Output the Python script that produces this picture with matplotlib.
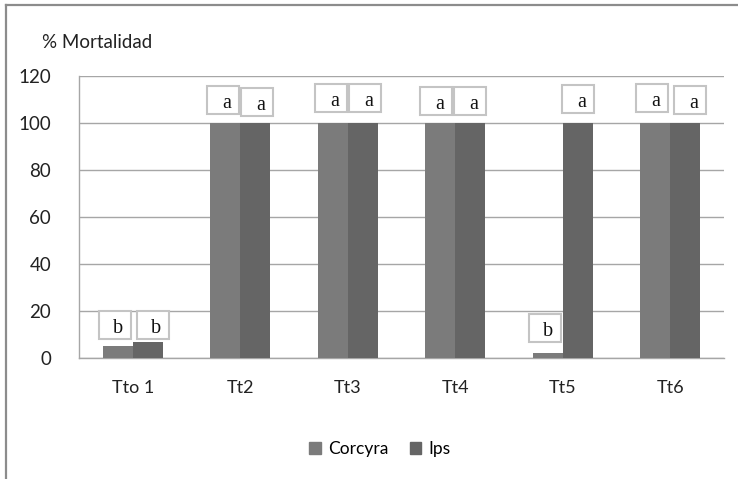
import matplotlib
matplotlib.use("Agg")
import matplotlib.pyplot as plt
from matplotlib.patches import Rectangle
from matplotlib.lines import Line2D
import numpy as np

categories = ["Tto 1", "Tt2", "Tt3", "Tt4", "Tt5", "Tt6"]
corcyra = [5, 100, 100, 100, 2, 100]
ips = [7, 100, 100, 100, 100, 100]
letters_corcyra = ["b", "a", "a", "a", "b", "a"]
letters_ips = ["b", "a", "a", "a", "a", "a"]
yticks = [0, 20, 40, 60, 80, 100, 120]

# layout of the letter boxes (x offset from category centre, bottom y)
box_c_dx = [-0.314, -0.309, -0.305, -0.328, -0.314, -0.319]
box_c_y = [8.1, 103.8, 104.7, 103.4, 6.8, 104.7]
box_i_dx = [0.040, 0.007, 0.012, -0.012, -0.007, 0.035]
box_i_y = [8.1, 103.0, 104.7, 103.4, 104.3, 103.8]

plt.rcParams['font.family'] = ['Lato', 'DejaVu Sans']

fig = plt.figure(figsize=(7.38, 4.79), dpi=100)
ax = fig.add_axes([79/738, 1-358/479, (724-79)/738, (358-76)/479])

c_col = "#7b7b7b"
i_col = "#656565"
w = 0.28
x = np.arange(len(categories))
ax.bar(x - w/2, corcyra, width=w, color=c_col, label="Corcyra", zorder=3)
ax.bar(x + w/2, ips, width=w, color=i_col, label="Ips", zorder=3)

ax.set_xlim(-0.5, len(categories) - 0.5)
ax.set_ylim(0, 120)
ax.set_yticks(yticks)
ax.set_yticklabels([str(v) for v in yticks], fontsize=13.5)
ax.set_xticks(x)
ax.set_xticklabels(categories, fontsize=13)
ax.tick_params(axis='both', length=0, colors='#222222')
ax.tick_params(axis='y', pad=20)
ax.tick_params(axis='x', pad=16)
ax.yaxis.grid(True, color="#a6a6a6", linewidth=1.0, zorder=0)
ax.set_axisbelow(True)
for s in ["top", "right"]:
    ax.spines[s].set_visible(False)
for s in ["left", "bottom"]:
    ax.spines[s].set_color("#a6a6a6")
    ax.spines[s].set_linewidth(1.0)

bw, bh = 0.30, 12.0
for i in range(len(categories)):
    for dx, by, lt in ((box_c_dx[i], box_c_y[i], letters_corcyra[i]),
                       (box_i_dx[i], box_i_y[i], letters_ips[i])):
        ax.add_patch(Rectangle((i + dx, by), bw, bh, facecolor="white",
                               edgecolor="#c4c4c4", linewidth=1.5, zorder=4))
        ax.text(i + dx + bw*0.6, by + 0.5, lt, ha="center", va="bottom",
                fontsize=14.5, family=["Liberation Serif"], color="#111111", zorder=5)

fig.text(42/738, 1-43/479, "% Mortalidad", fontsize=13.5, va="center", ha="left", color="#222222")

handles = [Rectangle((0, 0), 1, 1, color=c_col), Rectangle((0, 0), 1, 1, color=i_col)]
fig.legend(handles, ["Corcyra", "Ips"], loc="center", bbox_to_anchor=(380/738, 1-449/479),
           ncol=2, frameon=False, fontsize=12.5, handlelength=0.65, handleheight=0.65,
           handletextpad=0.45, columnspacing=1.2)

# outer frame (left and top only visible)
fig.add_artist(Line2D([6/738, 6/738], [0, 1-5/479], color="#8c8c8c", linewidth=1.6))
fig.add_artist(Line2D([6/738, 1], [1-5/479, 1-5/479], color="#8c8c8c", linewidth=1.6))

fig.savefig("out.png", dpi=100, facecolor="white")
